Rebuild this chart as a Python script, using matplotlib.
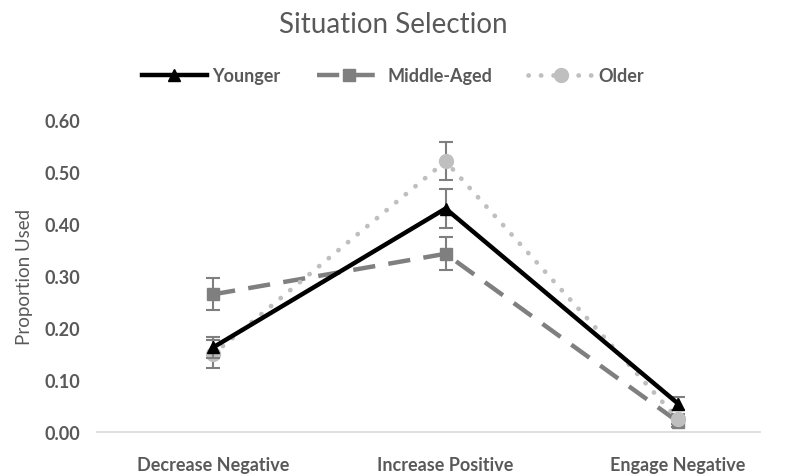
import matplotlib.pyplot as plt
from matplotlib.lines import Line2D
import numpy as np

plt.rcParams['font.family'] = ['Lato', 'DejaVu Sans']

categories = ["Decrease Negative", "Increase Positive", "Engage Negative"]
younger = [0.163, 0.430, 0.055]
younger_err = [0.020, 0.037, 0.012]
middle = [0.265, 0.343, 0.020]
middle_err = [0.031, 0.032, 0.010]
older = [0.150, 0.521, 0.025]
older_err = [0.027, 0.037, 0.010]

fig = plt.figure(figsize=(7.86, 4.77), dpi=100)
ax = fig.add_axes([0.1234, 0.092, 0.8435, 0.654])

x = np.arange(len(categories))
text_col = "#595959"
err_col = "#7f7f7f"

styles = {
    "Younger": dict(color="black", lw=3.2, marker="^", ms=9),
    "Middle-Aged": dict(color="#7f7f7f", lw=3.2, dashes=(5, 3), marker="s", ms=9),
    "Older": dict(color="#bfbfbf", lw=3.4, dashes=(0.05, 2.6),
                  dash_capstyle="round", marker="o", ms=10),
}
series = [("Middle-Aged", middle, middle_err, 2),
          ("Older", older, older_err, 3),
          ("Younger", younger, younger_err, 4)]
for name, vals, err, z in series:
    ax.errorbar(x, vals, yerr=err, capsize=5, elinewidth=1.5, ecolor=err_col,
                capthick=1.5, zorder=z, **styles[name])

ax.set_xlim(-0.5, 2.353)
ax.set_ylim(0, 0.6)
yt = np.arange(0, 0.61, 0.1)
ax.set_yticks(yt)
ax.set_yticklabels([f"{v:.2f}" for v in yt])
ax.set_xticks(x)
ax.set_xticklabels(categories)
ax.tick_params(length=0, labelsize=13, colors=text_col)
ax.tick_params(axis="y", pad=12)
ax.tick_params(axis="x", pad=17)
for lbl in ax.get_xticklabels() + ax.get_yticklabels():
    lbl.set_fontweight("bold")

for s in ["top", "right", "left"]:
    ax.spines[s].set_visible(False)
ax.spines["bottom"].set_color("#d9d9d9")
ax.spines["bottom"].set_linewidth(1.2)

ax.set_ylabel("Proportion Used", fontsize=13.5, color=text_col, labelpad=8)

fig.text(0.5, 0.948, "Situation Selection", ha="center", va="center",
         fontsize=20, color=text_col)

names = ["Younger", "Middle-Aged", "Older"]
handles = [Line2D([], [], **styles[n]) for n in names]
leg = fig.legend(handles, names, loc="center", bbox_to_anchor=(0.5, 0.84),
                 ncol=3, frameon=False, handlelength=3.6, columnspacing=2.0,
                 handletextpad=0.3, prop={"size": 13, "weight": "bold"})
for t in leg.get_texts():
    t.set_color(text_col)

fig.savefig("out.png", dpi=100)
